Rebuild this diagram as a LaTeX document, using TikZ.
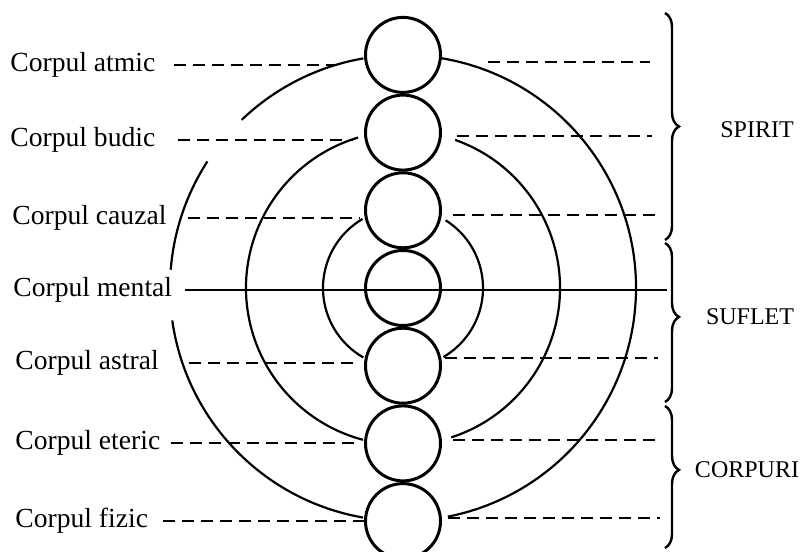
\documentclass[tikz,border=0pt]{standalone}
\usepackage{fontspec}
\setmainfont{Liberation Serif}
\usetikzlibrary{calc,decorations.pathreplacing}
\begin{document}
\begin{tikzpicture}[x=.5pt,y=.5pt,
 ring/.style={circle,draw,line width=1.5pt,minimum size=37.5pt,inner sep=0pt},
 lbl/.style={anchor=west,inner sep=0pt,font=\fontsize{13.8}{16}\selectfont},
 part/.style={font=\fontsize{12}{14}\selectfont},
 lead/.style={dash pattern=on 6pt off 3.5pt,line width=1.15pt},
 orbit/.style={line width=1.1pt},
 grp/.style={decorate,decoration={brace,amplitude=7pt,aspect=#1},line width=1.2pt}]
\useasboundingbox(0,0)rectangle(802,551);
\foreach \i in {1,...,7}\node[ring](c\i)at(403,{263+(4-\i)*77.7}){};
\coordinate(o)at(403,263);
\draw[orbit](o)++(99.8:233)arc[start angle=99.8,end angle=133.8,radius=233];
\draw[orbit](o)++(147.1:233)arc[start angle=147.1,end angle=175.5,radius=233];
\draw[orbit](o)++(188:233)arc[start angle=188,end angle=260.1,radius=233];
\draw[orbit](o)++(106.6:157)arc[start angle=106.6,end angle=255.2,radius=157];
\draw[orbit](o)++(120.4:80)arc[start angle=120.4,end angle=240.3,radius=80];
\draw[orbit](o)++(80.9:233)arc[start angle=80.9,end angle=-78.9,radius=233];
\draw[orbit](o)++(70.6:157)arc[start angle=70.6,end angle=-72.1,radius=157];
\draw[orbit](o)++(57.8:80)arc[start angle=57.8,end angle=-59.7,radius=80];
\node[lbl](l1)at(10,486){Corpul atmic};\node[lbl](l2)at(10,411){Corpul budic};\node[lbl](l3)at(12,333){Corpul cauzal};
\node[lbl](l4)at(13,261){Corpul mental};
\node[lbl](l5)at(15,188){Corpul astral};\node[lbl](l6)at(15,108){Corpul eteric};\node[lbl](l7)at(15,30){Corpul fizic};
\draw[lead]($(l1.east)+(18,0)$)--($(l1.east-|c1.west)+(-30,0)$);
\draw[lead]($(l2.east)+(22,0)$)--($(l2.east-|c2.west)+(-11,0)$);
\draw[lead]($(l3.east)+(21,0)$)--($(l3.east-|c3.west)+(-4,0)$);
\draw[lead]($(l5.east)+(30,0)$)--($(l5.east-|c5.west)+(-6,0)$);
\draw[lead]($(l6.east)+(10,0)$)--($(l6.east-|c6.west)+(-4,0)$);
\draw[lead]($(l7.east)+(15,0)$)--(l7.east-|c7.west);
\coordinate(m)at(667,261);\draw[line width=1.4pt]($(l4.east)+(13,0)$)--(l4.east-|m);
\coordinate(r1)at(650,489);\coordinate(r2)at(652,415);\coordinate(r3)at(655,336);
\coordinate(r5)at(658,193);\coordinate(r6)at(660,111);\coordinate(r7)at(660,33);
\draw[lead]($(r1-|c1.east)+(46,0)$)--(r1);\draw[lead]($(r2-|c2.east)+(15,0)$)--(r2);\draw[lead]($(r3-|c3.east)+(11,0)$)--(r3);
\draw[lead]($(r5-|c5.east)+(3,0)$)--(r5);\draw[lead]($(r6-|c6.east)+(11,0)$)--(r6);\draw[lead]($(r7-|c7.east)+(6,0)$)--(r7);
\draw[grp=.5](665,538)--(665,311);\draw[grp=.465](665,308)--(665,149);\draw[grp=.45](665,145)--(665,3);
\node[part](sp)at(757,421){SPIRIT};\node[part](sf)at(750,234){SUFLET};\node[part](cp)at(747,81){CORPURI};
\end{tikzpicture}
\end{document}
